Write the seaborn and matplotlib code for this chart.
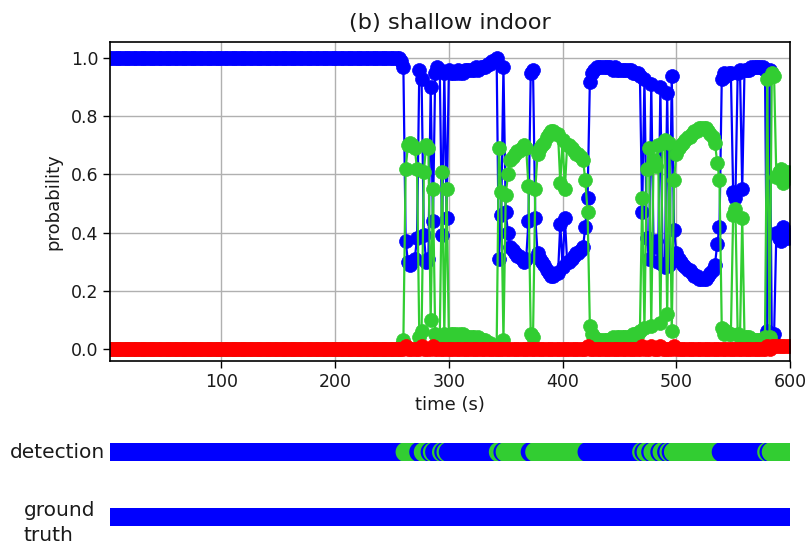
import numpy as np
import pandas as pd
import matplotlib
matplotlib.use("Agg")
import matplotlib.pyplot as plt
import seaborn as sns

# Sampling grid (seconds)
time_s = np.arange(2, 601, 2)

# Class probabilities per time step
blue_prob = [1.00] * 128 + [
    0.99, 0.97, 0.37, 0.30, 0.29, 0.30, 0.31, 0.38, 0.96, 0.93,
    0.39, 0.30, 0.31, 0.90, 0.44, 0.95, 0.97, 0.96, 0.39, 0.95,
    0.45, 0.96, 0.95, 0.95, 0.95, 0.96, 0.95, 0.95, 0.96, 0.96,
    0.96, 0.96, 0.96, 0.97, 0.96, 0.97, 0.97, 0.97, 0.98, 0.98,
    0.99, 0.99, 1.00, 0.31, 0.46, 0.97, 0.47, 0.40, 0.35, 0.34,
    0.33, 0.32, 0.32, 0.31, 0.30, 0.31, 0.44, 0.95, 0.96, 0.45,
    0.33, 0.31, 0.30, 0.29, 0.27, 0.26, 0.25, 0.25, 0.26, 0.26,
    0.43, 0.28, 0.45, 0.30, 0.30, 0.31, 0.32, 0.33, 0.33, 0.34,
    0.35, 0.42, 0.52, 0.92, 0.95, 0.96, 0.97, 0.97, 0.97, 0.97,
    0.97, 0.97, 0.97, 0.96, 0.97, 0.96, 0.96, 0.96, 0.96, 0.96,
    0.96, 0.96, 0.95, 0.95, 0.95, 0.94, 0.47, 0.93, 0.38, 0.31,
    0.91, 0.35, 0.37, 0.30, 0.90, 0.29, 0.28, 0.88, 0.29, 0.94,
    0.41, 0.33, 0.31, 0.30, 0.29, 0.28, 0.27, 0.27, 0.26, 0.25,
    0.25, 0.24, 0.24, 0.24, 0.24, 0.25, 0.26, 0.27, 0.29, 0.36,
    0.42, 0.93, 0.95, 0.94, 0.95, 0.95, 0.54, 0.52, 0.95, 0.96,
    0.55, 0.96, 0.96, 0.96, 0.97, 0.97, 0.97, 0.97, 0.97, 0.97,
    0.96, 0.06, 0.96, 0.04, 0.05, 0.40, 0.38, 0.37, 0.42, 0.40,
    0.38, 0.39,
]
green_prob = [0.00] * 128 + [
    0.01, 0.03, 0.62, 0.70, 0.71, 0.70, 0.69, 0.62, 0.04, 0.06,
    0.61, 0.70, 0.69, 0.10, 0.55, 0.05, 0.03, 0.04, 0.61, 0.05,
    0.55, 0.04, 0.05, 0.05, 0.05, 0.04, 0.05, 0.05, 0.04, 0.04,
    0.04, 0.04, 0.04, 0.03, 0.04, 0.03, 0.03, 0.03, 0.02, 0.02,
    0.01, 0.01, 0.00, 0.69, 0.54, 0.03, 0.53, 0.60, 0.65, 0.66,
    0.67, 0.68, 0.68, 0.69, 0.70, 0.69, 0.56, 0.05, 0.04, 0.55,
    0.67, 0.69, 0.70, 0.71, 0.73, 0.74, 0.75, 0.75, 0.74, 0.74,
    0.57, 0.72, 0.55, 0.70, 0.70, 0.69, 0.68, 0.67, 0.67, 0.66,
    0.65, 0.58, 0.47, 0.08, 0.05, 0.04, 0.03, 0.03, 0.03, 0.03,
    0.03, 0.03, 0.03, 0.04, 0.03, 0.04, 0.04, 0.04, 0.04, 0.04,
    0.04, 0.04, 0.05, 0.05, 0.05, 0.06, 0.52, 0.07, 0.62, 0.69,
    0.08, 0.65, 0.63, 0.70, 0.09, 0.71, 0.72, 0.12, 0.71, 0.06,
    0.58, 0.67, 0.69, 0.70, 0.71, 0.72, 0.73, 0.73, 0.74, 0.75,
    0.75, 0.76, 0.76, 0.76, 0.76, 0.75, 0.74, 0.73, 0.71, 0.64,
    0.58, 0.07, 0.05, 0.06, 0.05, 0.05, 0.46, 0.48, 0.05, 0.04,
    0.45, 0.04, 0.04, 0.04, 0.03, 0.03, 0.03, 0.03, 0.03, 0.03,
    0.04, 0.93, 0.04, 0.95, 0.94, 0.59, 0.61, 0.62, 0.57, 0.59,
    0.61, 0.60,
]
# Remaining probability mass goes to the third class
red_prob = np.clip(1.0 - np.array(blue_prob) - np.array(green_prob), 0.0, None)

class_colors = ["blue", "limegreen", "red"]
ground_truth = [0] * len(time_s)

probs = np.vstack([blue_prob, green_prob, red_prob])
detection = probs.argmax(axis=0)

df = pd.DataFrame({"time": time_s, "blue": blue_prob,
                   "green": green_prob, "red": red_prob,
                   "detection": detection, "truth": ground_truth})

sns.set_theme(style="ticks")
plt.rcParams["font.family"] = ["DejaVu Sans"]

W, H = 811, 552
fig = plt.figure(figsize=(W / 100, H / 100), dpi=100)

ax = fig.add_axes([110 / W, 1 - 361 / H, 680 / W, 319 / H])
for col, color in zip(["blue", "green", "red"], class_colors):
    sns.lineplot(data=df, x="time", y=col, ax=ax, color=color,
                 marker="o", markersize=10, markeredgecolor=color,
                 markeredgewidth=0.5, linewidth=1.6, estimator=None,
                 sort=False)

ax.set_xlim(2, 600)
ax.set_ylim(-0.042, 1.056)
ax.set_xticks([100, 200, 300, 400, 500, 600])
ax.set_yticks([0.0, 0.2, 0.4, 0.6, 0.8, 1.0])
ax.set_yticklabels(["0.0", "0.2", "0.4", "0.6", "0.8", "1.0"])
ax.grid(True, color="#b0b0b0", linewidth=1)
ax.set_axisbelow(True)
ax.tick_params(labelsize=12.5, length=5, width=1, colors="black",
               labelcolor="#1a1a1a")
for sp in ax.spines.values():
    sp.set_color("black")
    sp.set_linewidth(1.2)
ax.set_title("(b) shallow indoor", fontsize=16.2, pad=9, color="#1a1a1a")
ax.set_xlabel("time (s)", fontsize=13, color="#1a1a1a")
ax.set_ylabel("probability", fontsize=13, color="#1a1a1a", labelpad=6)

palette = {i: c for i, c in enumerate(class_colors)}

def strip(top_px, column):
    sax = fig.add_axes([110 / W, 1 - (top_px + 18) / H, 680 / W, 18 / H])
    sns.scatterplot(data=df, x="time", y=np.zeros(len(df)), hue=column,
                    palette=palette, s=210, linewidth=0, legend=False,
                    ax=sax)
    sax.set_xlim(2, 600)
    sax.set_ylim(-1, 1)
    sax.axis("off")
    return sax

strip(443, "detection")
strip(508, "truth")

fig.text(105 / W, 1 - 452 / H, "detection", ha="right", va="center",
         fontsize=14.5, color="#1a1a1a")
fig.text(95 / W, 1 - 523 / H, "ground\ntruth", ha="right", va="center",
         multialignment="left", linespacing=1.35, fontsize=14.5,
         color="#1a1a1a")

fig.savefig("out.png", dpi=100)
